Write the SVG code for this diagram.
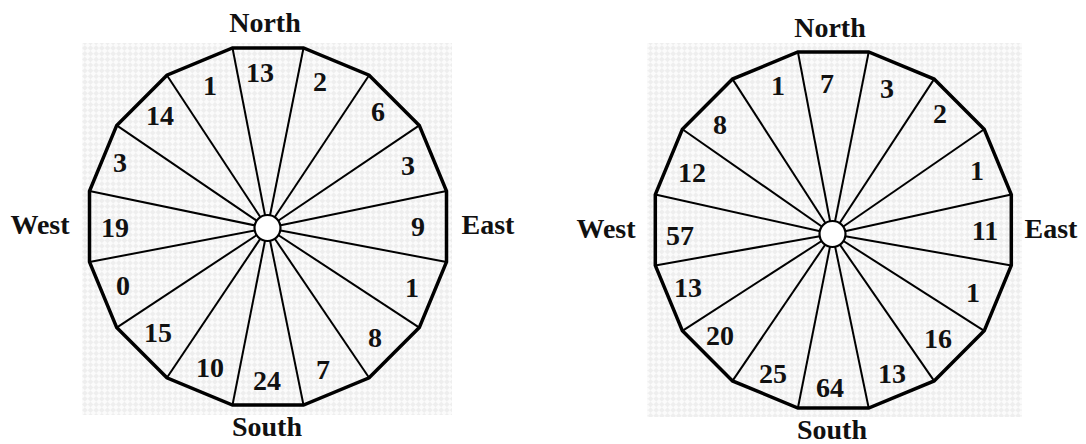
<svg xmlns="http://www.w3.org/2000/svg" width="1086" height="444" viewBox="0 0 1086 444">
<defs>
<pattern id="chk" width="8" height="8" patternUnits="userSpaceOnUse" patternTransform="rotate(45)">
<rect width="8" height="8" fill="#fbfbfb"/>
<rect width="4" height="4" fill="#eeeeee"/>
<rect x="4" y="4" width="4" height="4" fill="#eeeeee"/>
</pattern>
<style>
.t{font-family:"Liberation Serif","Times New Roman",serif;font-weight:bold;font-size:28px;fill:#111;text-anchor:middle}
.poly{fill:none;stroke:#000;stroke-width:3.5;stroke-linejoin:miter}
.sp{stroke:#000;stroke-width:2}
.hub{fill:#fff;stroke:#000;stroke-width:2.2}
</style>
</defs>
<rect width="1086" height="444" fill="#fff"/>
<rect x="82" y="43" width="370" height="372" fill="url(#chk)"/>
<rect x="647" y="43" width="375" height="374" fill="url(#chk)"/>

<g id="left-rose">
<polygon points="446.5,191 446.5,262 419.3,327.6 369.1,377.8 303.5,405 232.5,405 166.9,377.8 116.7,327.6 89.5,262 89.5,191 116.7,125.4 166.9,75.2 232.5,48 303.5,48 369.1,75.2 419.3,125.4" class="poly"/>
<g id="left-spokes" class="sp">
<line x1="267.5" y1="228" x2="446.5" y2="191"/>
<line x1="267.5" y1="228" x2="446.5" y2="262"/>
<line x1="267.5" y1="228" x2="419.3" y2="327.6"/>
<line x1="267.5" y1="228" x2="369.1" y2="377.8"/>
<line x1="267.5" y1="228" x2="303.5" y2="405"/>
<line x1="267.5" y1="228" x2="232.5" y2="405"/>
<line x1="267.5" y1="228" x2="166.9" y2="377.8"/>
<line x1="267.5" y1="228" x2="116.7" y2="327.6"/>
<line x1="267.5" y1="228" x2="89.5" y2="262"/>
<line x1="267.5" y1="228" x2="89.5" y2="191"/>
<line x1="267.5" y1="228" x2="116.7" y2="125.4"/>
<line x1="267.5" y1="228" x2="166.9" y2="75.2"/>
<line x1="267.5" y1="228" x2="232.5" y2="48"/>
<line x1="267.5" y1="228" x2="303.5" y2="48"/>
<line x1="267.5" y1="228" x2="369.1" y2="75.2"/>
<line x1="267.5" y1="228" x2="419.3" y2="125.4"/>
</g>
<circle cx="267.5" cy="228" r="13" class="hub"/>
<text class="t" x="265" y="32">North</text>
<text class="t" x="267" y="436">South</text>
<text class="t" x="40" y="234">West</text>
<text class="t" x="488" y="234">East</text>
<text class="t" x="260" y="82">13</text>
<text class="t" x="320" y="91">2</text>
<text class="t" x="378" y="121">6</text>
<text class="t" x="408" y="175">3</text>
<text class="t" x="418" y="236">9</text>
<text class="t" x="412" y="297">1</text>
<text class="t" x="375" y="347">8</text>
<text class="t" x="323" y="379">7</text>
<text class="t" x="267" y="390">24</text>
<text class="t" x="210" y="377">10</text>
<text class="t" x="158" y="342">15</text>
<text class="t" x="123" y="295">0</text>
<text class="t" x="115" y="237">19</text>
<text class="t" x="120" y="172">3</text>
<text class="t" x="160" y="125">14</text>
<text class="t" x="210" y="95">1</text>
</g>

<g id="right-rose">
<polygon points="1011.3,194.6 1011.3,265.4 984.2,330.8 934.1,380.9 868.7,408 797.9,408 732.5,380.9 682.4,330.8 655.3,265.4 655.3,194.6 682.4,129.2 732.5,79.1 797.9,52 868.7,52 934.1,79.1 984.2,129.2" class="poly"/>
<g id="right-spokes" class="sp">
<line x1="832.5" y1="234" x2="1011.3" y2="194.6"/>
<line x1="832.5" y1="234" x2="1011.3" y2="265.4"/>
<line x1="832.5" y1="234" x2="984.2" y2="330.8"/>
<line x1="832.5" y1="234" x2="934.1" y2="380.9"/>
<line x1="832.5" y1="234" x2="868.7" y2="408"/>
<line x1="832.5" y1="234" x2="797.9" y2="408"/>
<line x1="832.5" y1="234" x2="732.5" y2="380.9"/>
<line x1="832.5" y1="234" x2="682.4" y2="330.8"/>
<line x1="832.5" y1="234" x2="655.3" y2="265.4"/>
<line x1="832.5" y1="234" x2="655.3" y2="194.6"/>
<line x1="832.5" y1="234" x2="682.4" y2="129.2"/>
<line x1="832.5" y1="234" x2="732.5" y2="79.1"/>
<line x1="832.5" y1="234" x2="797.9" y2="52"/>
<line x1="832.5" y1="234" x2="868.7" y2="52"/>
<line x1="832.5" y1="234" x2="934.1" y2="79.1"/>
<line x1="832.5" y1="234" x2="984.2" y2="129.2"/>
</g>
<circle cx="832.5" cy="234" r="13" class="hub"/>
<text class="t" x="830" y="37">North</text>
<text class="t" x="832" y="439">South</text>
<text class="t" x="606" y="238">West</text>
<text class="t" x="1051" y="238">East</text>
<text class="t" x="827" y="93">7</text>
<text class="t" x="887" y="98">3</text>
<text class="t" x="940" y="123">2</text>
<text class="t" x="977" y="180">1</text>
<text class="t" x="985" y="240">11</text>
<text class="t" x="973" y="302">1</text>
<text class="t" x="938" y="348">16</text>
<text class="t" x="892" y="383">13</text>
<text class="t" x="830" y="397">64</text>
<text class="t" x="773" y="383">25</text>
<text class="t" x="720" y="345">20</text>
<text class="t" x="688" y="297">13</text>
<text class="t" x="680" y="245">57</text>
<text class="t" x="692" y="182">12</text>
<text class="t" x="720" y="134">8</text>
<text class="t" x="778" y="95">1</text>
</g>
</svg>
